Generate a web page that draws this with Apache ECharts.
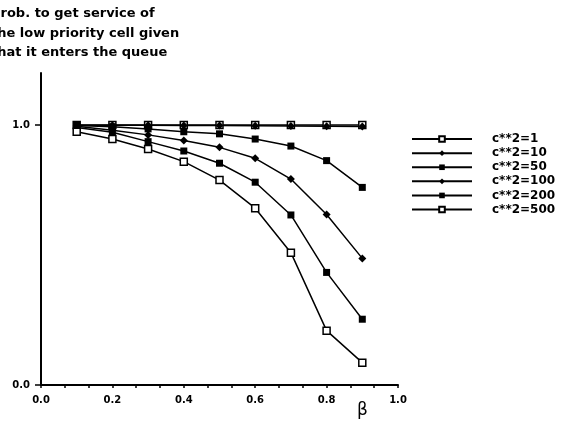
<!DOCTYPE html>
<html lang="en">
<head>
<meta charset="UTF-8">
<title>Prob. to get service</title>
<style>
  html, body { margin: 0; padding: 0; background: #fff; }
  #container { width: 568px; height: 428px; }
</style>
</head>
<body>
<div id="container"></div>
<script src="https://cdn.jsdelivr.net/npm/echarts@6/dist/echarts.min.js"></script>
<script type="text/javascript">
// beta values along x
var betas = [0.1, 0.2, 0.3, 0.4, 0.5, 0.6, 0.7, 0.8, 0.9];
// probability curves
var c1   = [1.0, 1.0, 1.0, 1.0, 1.0, 1.0, 1.0, 1.0, 1.0];
var c10  = [0.999, 0.999, 0.999, 0.998, 0.998, 0.997, 0.996, 0.995, 0.994];
var c50  = [0.998, 0.993, 0.985, 0.974, 0.966, 0.946, 0.919, 0.863, 0.76];
var c100 = [0.995, 0.98, 0.962, 0.94, 0.914, 0.872, 0.792, 0.656, 0.487];
var c200 = [0.99, 0.972, 0.936, 0.9, 0.853, 0.78, 0.654, 0.433, 0.253];
var c500 = [0.974, 0.946, 0.908, 0.859, 0.788, 0.68, 0.509, 0.209, 0.086];
var names = ['c**2=1', 'c**2=10', 'c**2=50', 'c**2=100', 'c**2=200', 'c**2=500'];

var boldFont = 'DejaVu Sans';

function pairs(ys) {
    return betas.map(function (b, i) { return [b, ys[i]]; });
}

function mkSeries(name, ys, symbol, hollow) {
    return {
        name: name,
        type: 'line',
        data: pairs(ys),
        symbol: symbol,
        symbolSize: symbol === 'diamond' ? 8 : 7,
        showAllSymbol: true,
        lineStyle: { color: '#000', width: 1.5 },
        itemStyle: {
            color: hollow ? '#fff' : '#000',
            borderColor: '#000',
            borderWidth: hollow ? 1.5 : 0
        },
        emphasis: { disabled: true },
        z: 2
    };
}

var chart = echarts.init(document.getElementById('container'), null, { renderer: 'canvas' });

var option = {
    animation: false,
    backgroundColor: '#fff',
    title: {
        text: 'Prob. to get service of\nthe low priority cell given\nthat it enters the queue',
        left: -9,
        top: 4,
        padding: 0,
        textStyle: {
            fontFamily: boldFont,
            fontWeight: 'bold',
            fontSize: 13,
            lineHeight: 19.5,
            color: '#000'
        }
    },
    legend: {
        orient: 'vertical',
        left: 406,
        top: 127,
        itemWidth: 60,
        itemHeight: 7,
        itemGap: 0,
        data: names,
        textStyle: {
            fontFamily: boldFont,
            fontWeight: 'bold',
            fontSize: 12,
            lineHeight: 14.1,
            color: '#000',
            padding: [0, 0, 0, 15]
        }
    },
    grid: { left: 41, top: 73, width: 357, height: 312 },
    xAxis: {
        type: 'value',
        min: 0,
        max: 1,
        interval: 0.2,
        axisLine: { lineStyle: { color: '#000', width: 2 } },
        axisTick: { show: true, length: 3, lineStyle: { color: '#000', width: 1.5 } },
        minorTick: { show: true, splitNumber: 3, length: 3, lineStyle: { color: '#000', width: 1.5 } },
        splitLine: { show: false },
        axisLabel: {
            margin: 10,
            fontFamily: boldFont,
            fontWeight: 'bold',
            fontSize: 10,
            color: '#000',
            formatter: function (v) { return v.toFixed(1); }
        }
    },
    yAxis: {
        type: 'value',
        min: 0,
        max: 1.2,
        interval: 1,
        axisLine: { show: true, lineStyle: { color: '#000', width: 2 } },
        axisTick: { show: true, length: 6, customValues: [0, 1], lineStyle: { color: '#000', width: 1.5 } },
        splitLine: { show: false },
        axisLabel: {
            margin: 11,
            customValues: [0, 1],
            fontFamily: boldFont,
            fontWeight: 'bold',
            fontSize: 10,
            color: '#000',
            formatter: function (v) { return v.toFixed(1); }
        }
    },
    graphic: [{
        type: 'text',
        left: 357,
        top: 402,
        style: { text: 'β', font: '17px "DejaVu Sans"', fill: '#000' }
    }],
    series: [
        mkSeries(names[0], c1, 'rect', true),
        mkSeries(names[1], c10, 'diamond', false),
        mkSeries(names[2], c50, 'rect', false),
        mkSeries(names[3], c100, 'diamond', false),
        mkSeries(names[4], c200, 'rect', false),
        mkSeries(names[5], c500, 'rect', true)
    ]
};

chart.setOption(option);
</script>
</body>
</html>
